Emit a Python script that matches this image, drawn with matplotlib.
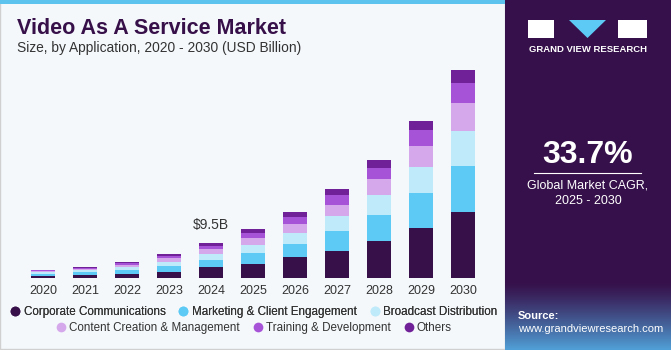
import numpy as np
import matplotlib.pyplot as plt
from matplotlib.patches import Rectangle, Polygon
from matplotlib.lines import Line2D

plt.rcParams['font.family'] = ['Liberation Sans', 'DejaVu Sans']

years = ['2020', '2021', '2022', '2023', '2024', '2025', '2026', '2027', '2028', '2029', '2030']
corporate = [0.70, 0.90, 1.30, 1.80, 3.00, 3.90, 5.70, 7.50, 10.2, 13.6, 17.9]
marketing = [0.50, 0.70, 1.00, 1.60, 2.00, 3.10, 3.60, 5.30, 7.00, 9.50, 12.5]
broadcast = [0.40, 0.55, 0.75, 1.10, 1.55, 2.10, 3.10, 4.20, 5.40, 7.20, 9.50]
content = [0.35, 0.45, 0.60, 0.90, 1.35, 1.90, 2.40, 2.90, 4.30, 5.50, 7.80]
training = [0.20, 0.30, 0.45, 0.60, 0.90, 1.40, 1.90, 2.70, 3.10, 4.40, 5.20]
others = [0.15, 0.20, 0.40, 0.55, 0.70, 0.90, 1.30, 1.60, 2.20, 2.60, 3.70]

segment_names = ['Corporate Communications', 'Marketing & Client Engagement', 'Broadcast Distribution',
                 'Content Creation & Management', 'Training & Development', 'Others']
segment_colors = ['#37104a', '#5ccaf5', '#beeafa', '#d5a8ec', '#a753d7', '#702198']
series = [corporate, marketing, broadcast, content, training, others]

W, H = 671, 350
fig = plt.figure(figsize=(W / 100, H / 100), dpi=100)
fig.patch.set_facecolor('white')

# background panels (figure pixel coords via a full-figure axes)
bg = fig.add_axes([0, 0, 1, 1])
bg.set_xlim(0, W)
bg.set_ylim(H, 0)
bg.axis('off')
bg.add_patch(Rectangle((0, 0), 505, H - 1, facecolor='#f4f8fb', edgecolor='#d0d0d0', linewidth=1))
bg.add_patch(Rectangle((0, 0), 505, 4, facecolor='#5cc3ee', edgecolor='none'))
bg.add_patch(Rectangle((505, 0), W - 505, H, facecolor='#36104a', edgecolor='none'))

# gradient at bottom of right panel
grad = np.linspace(0, 1, 100)[:, None]
top_c = np.array([54, 16, 74]) / 255
bot_c = np.array([80, 160, 215]) / 255
img = top_c + (bot_c - top_c) * grad[..., None] ** 1.2
bg.imshow(img, extent=(505, W, H, 282), aspect='auto', zorder=1)

# logo
bg.add_patch(Rectangle((528, 20), 26, 18, facecolor='white', edgecolor='none', zorder=2))
bg.add_patch(Polygon([(569, 20), (606, 20), (587.5, 38)], closed=True, facecolor='#5ccaf5', edgecolor='none', zorder=2))
bg.add_patch(Rectangle((618, 20), 29, 18, facecolor='white', edgecolor='none', zorder=2))
bg.text(588, 50, 'GRAND VIEW RESEARCH', color='white', fontsize=6.8, fontweight='bold',
        ha='center', va='center', zorder=3)

bg.text(588, 155, '33.7%', color='white', fontsize=23, fontweight='bold', ha='center', va='center', zorder=3)
bg.plot([534, 641], [173, 173], color='white', linewidth=0.8, zorder=3)
bg.text(588, 186, 'Global Market CAGR,', color='white', fontsize=9, ha='center', va='center', zorder=3)
bg.text(588, 201, '2025 - 2030', color='white', fontsize=9, ha='center', va='center', zorder=3)
bg.text(518, 316, 'Source:', color='white', fontsize=8, fontweight='bold', ha='left', va='center', zorder=3)
bg.text(518, 329, 'www.grandviewresearch.com', color='white', fontsize=8, ha='left', va='center', zorder=3)

bg.text(17, 28, 'Video As A Service Market', color='#37104a', fontsize=15.5, fontweight='bold',
        ha='left', va='center')
bg.text(17, 48, 'Size, by Application, 2020 - 2030 (USD Billion)', color='#333333', fontsize=9.9,
        ha='left', va='center')

# bar chart axes
base_px = 278.3
top_px = 60
ax = fig.add_axes([0, (H - base_px) / H, 505 / W, (base_px - top_px) / H])
ax.patch.set_alpha(0)
x = np.arange(len(years))
ax.set_xlim(-43 / 42, (505 - 43) / 42)
ax.set_ylim(0, (base_px - top_px) * 9.5 / 35)

bottom = np.zeros(len(years))
for vals, col, name in zip(series, segment_colors, segment_names):
    ax.bar(x, vals, width=0.58, bottom=bottom, color=col, edgecolor='none', label=name)
    bottom += np.array(vals)

ax.annotate('$9.5B', xy=(4, bottom[4]), xytext=(0, 8), textcoords='offset points',
            ha='center', va='bottom', fontsize=10, color='#333333')

ax.set_xticks(x)
ax.set_xticklabels(years, fontsize=9, color='#333333')
ax.tick_params(axis='x', length=0, pad=5)
ax.set_yticks([])
for s in ax.spines.values():
    s.set_visible(False)

handles = [Line2D([], [], marker='o', linestyle='none', markersize=7, markerfacecolor=c,
                  markeredgecolor='none') for c in segment_colors]
leg_kw = dict(loc='center', ncol=3, frameon=False, fontsize=8.4, handletextpad=0.15,
              columnspacing=1.0, handlelength=1.1, labelcolor='#333333')
leg1 = fig.legend(handles[:3], segment_names[:3], bbox_to_anchor=(253 / W, (H - 312) / H), **leg_kw)
leg2 = fig.legend(handles[3:], segment_names[3:], bbox_to_anchor=(253 / W, (H - 328) / H), **leg_kw)
fig.add_artist(leg1)

fig.savefig('out.png', dpi=100)
